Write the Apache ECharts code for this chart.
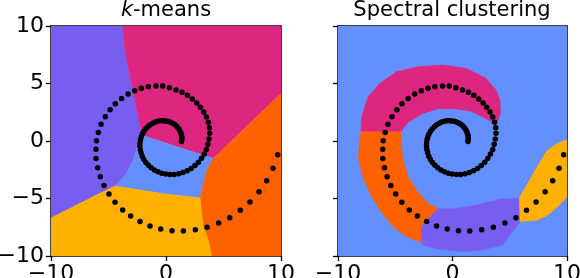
<!DOCTYPE html>
<html><head><meta charset="utf-8">
<script src="https://cdn.jsdelivr.net/npm/echarts@6/dist/echarts.min.js"></script>
<style>html,body{margin:0;padding:0;background:#fff}#c{width:580px;height:278px}</style>
</head><body><div id="c"></div>
<script>
// Spiral sample points
const spiralX = [1.35,1.37,1.38,1.35,1.31,1.24,1.15,1.04,0.91,0.75,0.58,0.39,0.19,-0.03,-0.25,-0.48,-0.71,-0.93,-1.15,-1.37,-1.56,-1.74,-1.90,-2.04,-2.14,-2.22,-2.26,-2.27,-2.24,-2.17,-2.07,-1.93,-1.75,-1.53,-1.29,-1.01,-0.70,-0.37,-0.02,0.35,0.72,1.10,1.47,1.84,2.19,2.52,2.82,3.09,3.32,3.51,3.64,
 3.74,3.80,3.77,3.68,3.51,3.28,2.99,2.67,2.29,1.86,1.39,0.87,0.29,-0.29,-0.87,-1.54,-2.14,-2.72,-3.30,-3.87,-4.41,-4.86,-5.28,-5.64,-5.88,-6.05,-6.09,-6.09,-5.94,-5.71,-5.39,-4.96,-4.43,-3.77,-3.07,-2.26,-1.39,-0.46,0.52,1.51,2.55,3.57,4.58,5.54,6.46,7.30,8.09,8.75,9.30,9.71];
const spiralY = [-0.05,0.12,0.30,0.48,0.65,0.83,1.00,1.16,1.30,1.43,1.54,1.64,1.71,1.75,1.77,1.76,1.72,1.65,1.55,1.42,1.27,1.08,0.88,0.65,0.40,0.13,-0.15,-0.44,-0.74,-1.03,-1.32,-1.60,-1.86,-2.10,-2.33,-2.52,-2.67,-2.80,-2.88,-2.91,-2.91,-2.85,-2.74,-2.59,-2.39,-2.14,-1.84,-1.51,-1.13,-0.73,-0.29,
 0.17,0.67,1.16,1.62,2.09,2.52,2.93,3.30,3.65,3.97,4.23,4.43,4.64,4.78,4.78,4.72,4.58,4.38,4.08,3.70,3.25,2.71,2.10,1.45,0.74,0.03,-0.72,-1.52,-2.32,-3.10,-3.88,-4.61,-5.33,-6.00,-6.52,-6.99,-7.39,-7.65,-7.80,-7.83,-7.71,-7.51,-7.13,-6.67,-6.03,-5.30,-4.41,-3.45,-2.38,-1.19];

const xTickValues = [-10, 0, 10];
const yTickValues = [-10, -5, 0, 5, 10];
const titles = ['k-means', 'Spectral clustering'];

// region outlines (data coordinates), k-means panel
const kmPurple = [[-10,10],[-3.77,10],[-3.57,7.9],[-3.13,5.6],[-2.84,4.14],[-2.55,2.7],[-2.26,1.25],[-2.1,0.5],[-2.41,-0.2],[-2.84,-1.65],[-3.42,-2.81],[-4.14,-3.68],[-4.43,-3.92],[-5.74,-4.55],[-7.77,-5.57],[-10,-6.7]];
const kmMagenta = [[-3.77,10],[10,10],[10,4.14],[7.0,1.25],[4.12,-1.51],[0.93,-0.49],[-2.1,0.5],[-2.26,1.25],[-2.55,2.7],[-2.84,4.14],[-3.13,5.6],[-3.57,7.9]];
const kmBlue = [[-2.1,0.5],[0.93,-0.49],[4.12,-1.51],[3.54,-2.57],[3.1,-4.3],[2.96,-4.95],[-0.23,-4.59],[-4.43,-3.92],[-4.14,-3.68],[-3.42,-2.81],[-2.84,-1.65],[-2.41,-0.2]];
const kmOrange = [[4.12,-1.51],[7.0,1.25],[10,4.14],[10,-10],[3.97,-10],[3.68,-8.65],[3.25,-7.49],[3.10,-6.33],[2.96,-4.95],[3.1,-4.3],[3.54,-2.57]];
const kmYellow = [[-10,-6.7],[-7.77,-5.57],[-5.74,-4.55],[-4.43,-3.92],[-0.23,-4.59],[2.96,-4.95],[3.10,-6.33],[3.25,-7.49],[3.68,-8.65],[3.97,-10],[-10,-10]];

// spectral clustering panel
const scBlue = [[-10,10],[10,10],[10,-10],[-10,-10]];
const scMagenta = [[-8.0,0.81],[-7.94,2.12],[-7.36,3.86],[-6.35,5.01],[-4.9,6.03],[-3.01,6.46],[-0.84,6.61],[1.19,6.32],[2.93,5.45],[3.8,4.43],[4.14,3.57],[4.2,2.4],[3.9,1.6],[3.3,1.75],[2.6,2.1],[1.6,2.6],[0.2,2.8],[-1.3,2.8],[-2.7,2.35],[-3.9,1.6],[-4.5,0.81]];
const scOrange = [[-8.0,0.81],[-4.5,0.81],[-4.46,-0.49],[-4.32,-1.65],[-3.88,-3.1],[-3.16,-4.26],[-2.15,-5.42],[-1.28,-5.86],[-2.72,-7.45],[-2.72,-8.75],[-2.87,-8.75],[-4.03,-8.32],[-5.19,-7.45],[-6.35,-6.0],[-7.22,-4.55],[-7.94,-2.81],[-8.23,-1.36],[-8.09,0.09]];
const scPurple = [[-1.28,-5.86],[0.32,-5.86],[2.06,-5.57],[4.09,-5.07],[5.83,-4.95],[5.9,-7.01],[4.38,-9.04],[2.64,-9.48],[0.9,-9.62],[-1.13,-9.42],[-2.58,-9.04],[-2.72,-8.75],[-2.72,-7.45]];
const scYellow = [[5.83,-4.95],[6.5,-3.8],[7.3,-2.4],[8.2,-0.9],[9.0,-0.3],[9.8,0.05],[10,0.05],[10,-4.9],[9.3,-5.6],[8.4,-6.4],[7.4,-6.9],[5.9,-7.01]];

const C = {blue:'#648FFF', purple:'#785EF0', magenta:'#DC267F', orange:'#FE6100', yellow:'#FFB000'};
const kmRegions = [[kmPurple,C.purple],[kmMagenta,C.magenta],[kmBlue,C.blue],[kmOrange,C.orange],[kmYellow,C.yellow]];
const scRegions = [[scBlue,C.blue],[scMagenta,C.magenta],[scOrange,C.orange],[scPurple,C.purple],[scYellow,C.yellow]];

const FONT = 'DejaVu Sans';
const minus = v => v < 0 ? '\u2212' + (-v) : String(v);
const pts = spiralX.map((x,i)=>[x, spiralY[i]]);

const chart = echarts.init(document.getElementById('c'), null, {renderer:'canvas'});
const grids = [
  {left:51, top:26, width:230, height:230, containLabel:false, outerBoundsMode:'none'},
  {left:338, top:26, width:229, height:230, containLabel:false, outerBoundsMode:'none'}
];
const xAxes = [], yAxes = [], series = [];
grids.forEach((g, gi) => {
  const line = {show:true, onZero:false, lineStyle:{color:'#000', width:1.5}};
  xAxes.push({gridIndex:gi, type:'value', min:-10, max:10, interval:10, position:'bottom',
    axisLine:line, axisTick:{show:true, length:5, lineStyle:{color:'#000', width:1.3}},
    axisLabel:{show:true, color:'#000', fontSize:22, fontFamily:FONT, margin:7, showMinLabel:true, showMaxLabel:true, hideOverlap:false, formatter:minus},
    splitLine:{show:false}});
  xAxes.push({gridIndex:gi, type:'value', min:-10, max:10, position:'top', axisLine:line, axisTick:{show:false}, axisLabel:{show:false}, splitLine:{show:false}});
  yAxes.push({gridIndex:gi, type:'value', min:-10, max:10, interval:5, position:'left',
    axisLine:line, axisTick:{show:true, length:5, lineStyle:{color:'#000', width:1.3}},
    axisLabel:{show: gi===0, color:'#000', fontSize:22, fontFamily:FONT, margin:7, showMinLabel:true, showMaxLabel:true, hideOverlap:false, formatter:minus},
    splitLine:{show:false}});
  yAxes.push({gridIndex:gi, type:'value', min:-10, max:10, position:'right', axisLine:line, axisTick:{show:false}, axisLabel:{show:false}, splitLine:{show:false}});
  const regs = gi === 0 ? kmRegions : scRegions;
  series.push({type:'custom', xAxisIndex:gi*2, yAxisIndex:gi*2, clip:true, z:1, silent:true,
    data: regs.map((r,i)=>[i,0]),
    renderItem: (params, api) => {
      const r = regs[params.dataIndex];
      return {type:'polygon', shape:{points: r[0].map(p => api.coord(p))}, style:{fill:r[1], stroke:r[1], lineWidth:0.5}};
    }});
  series.push({type:'scatter', xAxisIndex:gi*2, yAxisIndex:gi*2, z:5, symbol:'circle', symbolSize:5.5, silent:true,
    itemStyle:{color:'#000', opacity:1}, data:pts});
});

chart.setOption({
  animation:false,
  grid: grids,
  title:[
    {text:'{i|k}-means', left:166, top:0, padding:0, textAlign:'center',
     textStyle:{fontSize:21, fontFamily:FONT, color:'#000', fontWeight:'normal',
       rich:{i:{fontStyle:'italic', fontSize:21, fontFamily:FONT, color:'#000'}}}},
    {text:titles[1], left:452, top:0, padding:0, textAlign:'center',
     textStyle:{fontSize:21, fontFamily:FONT, color:'#000', fontWeight:'normal'}}
  ],
  xAxis:xAxes, yAxis:yAxes, series:series
});
</script></body></html>
